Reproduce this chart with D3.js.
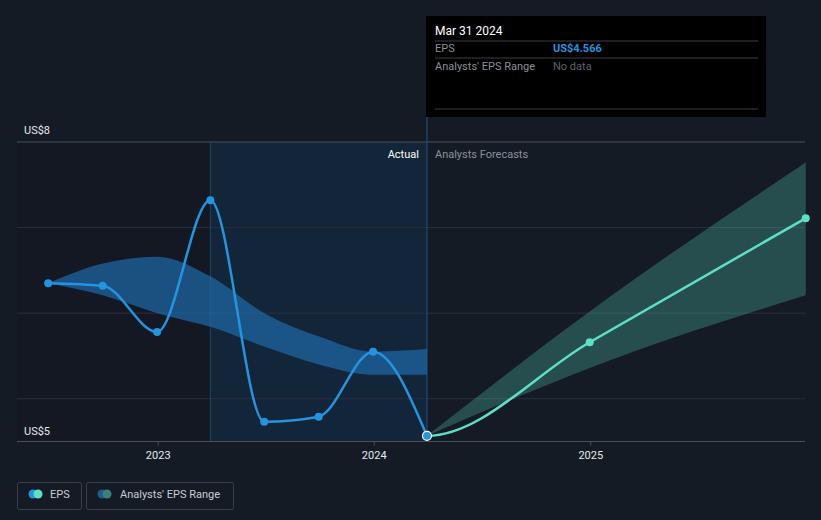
<!DOCTYPE html>
<html>
<head>
<meta charset="utf-8">
<script src="https://cdn.jsdelivr.net/npm/d3@7"></script>
<style>
  html, body { margin: 0; padding: 0; background: #151b25; }
  svg { display: block; font-family: Roboto, "Open Sans", sans-serif; }
</style>
</head>
<body>
<svg id="chart" width="821" height="520"></svg>
<script>
// ---- data ----
const actualDates = ["2022-06-30", "2022-09-30", "2022-12-31", "2023-03-31", "2023-06-30", "2023-09-30", "2023-12-31", "2024-03-31"];
const actualEPS   = [6.35, 6.32, 5.78, 7.32, 4.73, 4.79, 5.55, 4.566];
const rangeHigh   = [6.35, 6.58, 6.66, 6.43, 6.00, 5.73, 5.55, 5.58];
const rangeLow    = [6.35, 6.21, 6.00, 5.84, 5.61, 5.40, 5.28, 5.28];
const forecastDates = ["2024-03-31", "2024-12-31", "2025-12-31"];
const forecastEPS   = [4.566, 5.66, 7.11];
const forecastHigh  = [4.566, 6.02, 7.76];
const forecastLow   = [4.566, 5.36, 6.21];
const yTickValues = [5, 6, 7, 8];
const yLabelValues = [8, 5];
const xTickLabels = ["2023", "2024", "2025"];

const parse = d3.timeParse("%Y-%m-%d");
const svg = d3.select("#chart");

const x = d3.scaleTime()
  .domain([parse("2023-01-01"), parse("2025-01-01")])
  .range([157.7, 590.3]);
const y = d3.scaleLinear().domain([4.5, 8]).range([441.5, 142]);

const left = 17, right = 805;
const lastActual = parse("2024-03-31");
const hoverStart = parse("2023-03-31");

// left darker region
svg.append("rect").attr("x", left).attr("y", y(8)).attr("width", x(hoverStart) - left)
  .attr("height", y(4.5) - y(8)).attr("fill", "#131822");
// highlight region
svg.append("rect").attr("x", x(hoverStart)).attr("y", y(8)).attr("width", x(lastActual) - x(hoverStart))
  .attr("height", y(4.5) - y(8)).attr("fill", "#132538");

// grid
svg.append("g").selectAll("line").data(yTickValues).join("line")
  .attr("x1", left).attr("x2", right)
  .attr("y1", d => y(d)).attr("y2", d => y(d))
  .attr("stroke", d => d === 8 ? "#4a505a" : "#2a303a").attr("stroke-width", 1);

// vertical lines
svg.append("line").attr("x1", x(hoverStart)).attr("x2", x(hoverStart))
  .attr("y1", y(8)).attr("y2", y(4.5)).attr("stroke", "#1d4466").attr("stroke-width", 1);
svg.append("line").attr("x1", x(lastActual)).attr("x2", x(lastActual))
  .attr("y1", 117).attr("y2", y(4.5)).attr("stroke", "#1d4466").attr("stroke-width", 1.5);

// x axis
const xAxis = d3.axisBottom(x)
  .tickValues(xTickLabels.map(s => parse(s + "-01-01")))
  .tickFormat(d3.timeFormat("%Y"))
  .tickSize(4).tickPadding(6);
const gx = svg.append("g").attr("transform", `translate(0,${y(4.5)})`).call(xAxis);
gx.select(".domain").remove();
gx.append("line").attr("x1", left).attr("x2", right).attr("y1", 0).attr("y2", 0).attr("stroke", "#4a505a");
gx.selectAll(".tick line").attr("stroke", "#4a505a");
gx.selectAll(".tick text").attr("fill", "#e6e8eb").attr("font-size", 11).attr("font-family", "Roboto, sans-serif");

// y labels
svg.append("g").selectAll("text").data(yLabelValues).join("text")
  .attr("x", 24)
  .attr("y", d => d === 8 ? y(8) - 8 : y(4.5) - 7)
  .attr("fill", "#e6e8eb").attr("font-size", 11)
  .text(d => "US$" + d);

// actual band
const actualData = actualDates.map((d, i) => ({date: parse(d), v: actualEPS[i], hi: rangeHigh[i], lo: rangeLow[i]}));
const area = d3.area().x(d => x(d.date)).y0(d => y(d.lo)).y1(d => y(d.hi)).curve(d3.curveMonotoneX);
svg.append("path").datum(actualData).attr("d", area).attr("fill", "#1f68a6").attr("opacity", 0.72);

// forecast band
const forecastData = forecastDates.map((d, i) => ({date: parse(d), v: forecastEPS[i], hi: forecastHigh[i], lo: forecastLow[i]}));
svg.append("path").datum(forecastData).attr("d", area).attr("fill", "#5ce1c8").attr("opacity", 0.26);

// clip for forecast line
svg.append("clipPath").attr("id", "fclip").append("rect")
  .attr("x", x(lastActual)).attr("y", 0).attr("width", right - x(lastActual) + 10).attr("height", 520);

const line = d3.line().x(d => x(d.date)).y(d => y(d.v)).curve(d3.curveMonotoneX);
// forecast line (continued from the previous actual so the curve is smooth at the join)
const fLineData = [actualData[actualData.length - 2]].concat(forecastData);
svg.append("path").datum(fLineData).attr("d", line).attr("fill", "none")
  .attr("stroke", "#5ce1c8").attr("stroke-width", 2.5).attr("clip-path", "url(#fclip)");

// actual line
svg.append("path").datum(actualData).attr("d", line).attr("fill", "none")
  .attr("stroke", "#2394df").attr("stroke-width", 2.5);

// points
svg.append("g").selectAll("circle").data(actualData.slice(0, -1)).join("circle")
  .attr("cx", d => x(d.date)).attr("cy", d => y(d.v)).attr("r", 4).attr("fill", "#2394df");
svg.append("g").selectAll("circle").data(forecastData.slice(1)).join("circle")
  .attr("cx", d => x(d.date)).attr("cy", d => y(d.v)).attr("r", 4).attr("fill", "#5ce1c8");
const last = actualData[actualData.length - 1];
svg.append("circle").attr("cx", x(last.date)).attr("cy", y(last.v)).attr("r", 4.5)
  .attr("fill", "#2394df").attr("stroke", "#ffffff").attr("stroke-width", 1.2);

// Actual / Forecast labels
svg.append("text").attr("x", x(lastActual) - 8).attr("y", y(8) + 16).attr("text-anchor", "end")
  .attr("fill", "#ffffff").attr("font-size", 11).text("Actual");
svg.append("text").attr("x", x(lastActual) + 8).attr("y", y(8) + 16)
  .attr("fill", "#8a9099").attr("font-size", 11).text("Analysts Forecasts");

// tooltip
const tt = svg.append("g");
tt.append("rect").attr("x", 426).attr("y", 16).attr("width", 340).attr("height", 101).attr("fill", "#000000");
tt.append("text").attr("x", 435).attr("y", 35).attr("fill", "#ffffff").attr("font-size", 12).text("Mar 31 2024");
[41, 58, 109].forEach(yy => tt.append("line").attr("x1", 435).attr("x2", 758).attr("y1", yy).attr("y2", yy).attr("stroke", "#3a3d42"));
tt.append("text").attr("x", 435).attr("y", 52).attr("fill", "#8a8f96").attr("font-size", 11).text("EPS");
tt.append("text").attr("x", 553).attr("y", 52).attr("fill", "#2394df").attr("font-size", 11).attr("font-weight", 700).text("US$" + last.v);
tt.append("text").attr("x", 435).attr("y", 70).attr("fill", "#8a8f96").attr("font-size", 11).text("Analysts' EPS Range");
tt.append("text").attr("x", 553).attr("y", 70).attr("fill", "#5e6268").attr("font-size", 11).text("No data");

// legend
const lg = svg.append("g");
lg.append("rect").attr("x", 17.5).attr("y", 482.5).attr("width", 64).attr("height", 27).attr("rx", 2)
  .attr("fill", "none").attr("stroke", "#3a3f4a");
lg.append("circle").attr("cx", 33).attr("cy", 494).attr("r", 4.5).attr("fill", "#2394df");
lg.append("circle").attr("cx", 38).attr("cy", 494).attr("r", 4.5).attr("fill", "#5ce1c8");
lg.append("text").attr("x", 50).attr("y", 498).attr("fill", "#c8ccd2").attr("font-size", 11).text("EPS");
lg.append("rect").attr("x", 86.5).attr("y", 482.5).attr("width", 147).attr("height", 27).attr("rx", 2)
  .attr("fill", "none").attr("stroke", "#3a3f4a");
lg.append("circle").attr("cx", 102).attr("cy", 494).attr("r", 4.5).attr("fill", "#1f5a8a");
lg.append("circle").attr("cx", 107).attr("cy", 494).attr("r", 4.5).attr("fill", "#3a7f7a");
lg.append("text").attr("x", 120).attr("y", 498).attr("fill", "#c8ccd2").attr("font-size", 11).text("Analysts' EPS Range");
</script>
</body>
</html>
